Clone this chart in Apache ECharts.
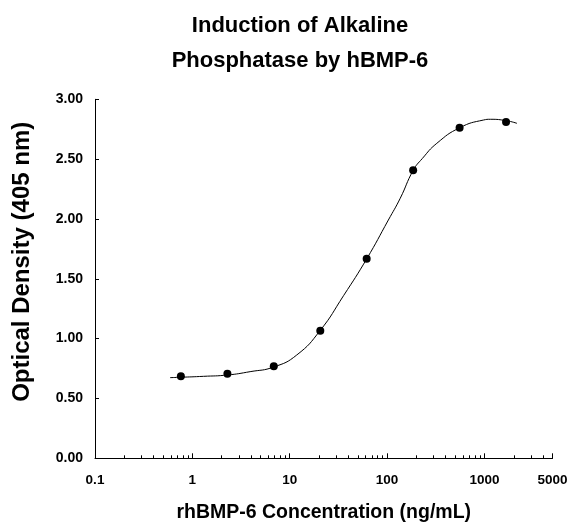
<!DOCTYPE html>
<html>
<head>
<meta charset="utf-8">
<script src="https://cdn.jsdelivr.net/npm/echarts@6/dist/echarts.min.js"></script>
<style>html,body{margin:0;padding:0;background:#fff}#chart{width:571px;height:523px}</style>
</head>
<body>
<div id="chart"></div>
<script>
// Measured points (rhBMP-6 ng/mL, OD 405 nm)
const concentrations = [0.762, 2.29, 6.86, 20.6, 61.7, 185.2, 555.6, 1666.7];
const opticalDensity = [0.685, 0.707, 0.769, 1.066, 1.668, 2.407, 2.763, 2.810];
// Fitted curve
const curveX = [0.59, 0.753, 1.30, 2.29, 3.92, 6.86, 11.8, 20.5, 35.7, 61.9, 103, 136.5, 185.4, 230, 324, 559, 980, 1150, 1687, 2158];
const curveY = [0.674, 0.677, 0.685, 0.696, 0.724, 0.763, 0.863, 1.067, 1.359, 1.668, 1.991, 2.173, 2.406, 2.505, 2.632, 2.763, 2.827, 2.833, 2.821, 2.799];
// Axis ticks
const xMajorTicks = [0.1, 1, 10, 100, 1000, 5000];
const xMinorTicks = [0.2,0.3,0.4,0.5,0.6,0.7,0.8,0.9, 2,3,4,5,6,7,8,9, 20,30,40,50,60,70,80,90, 200,300,400,500,600,700,800,900, 2000,3000,4000,5000];
const yTicks = [0, 0.5, 1, 1.5, 2, 2.5, 3];

const FONT = '"Liberation Sans", Arial, sans-serif';
const chart = echarts.init(document.getElementById('chart'), null, {renderer: 'canvas'});
const curveData = curveX.map((x, i) => [x, curveY[i]]);
const pointData = concentrations.map((x, i) => [x, opticalDensity[i]]);
chart.setOption({
  backgroundColor: '#fff',
  animation: false,
  title: {
    text: 'Induction of Alkaline\nPhosphatase by hBMP-6',
    left: 295, top: 3, textAlign: 'center',
    textStyle: {fontFamily: FONT, fontWeight: 'bold', fontSize: 22, lineHeight: 35, color: '#000'}
  },
  grid: {left: 95, right: 18.5, top: 99.3, bottom: 64.7, outerBoundsMode: 'none', containLabel: false},
  xAxis: [{
    type: 'log', logBase: 10, min: 0.1, max: 5000,
    name: 'rhBMP-6 Concentration (ng/mL)', nameLocation: 'middle', nameGap: 44,
    nameTextStyle: {fontFamily: FONT, fontWeight: 'bold', fontSize: 19.5, color: '#000'},
    axisLine: {lineStyle: {color: '#000', width: 1}},
    axisTick: {inside: true, length: 5, customValues: xMajorTicks, lineStyle: {color: '#000'}},
    axisLabel: {customValues: xMajorTicks, margin: 15, fontFamily: FONT, fontWeight: 'bold', fontSize: 13.5, color: '#000',
      formatter: v => String(Math.round(v * 10) / 10)},
    splitLine: {show: false}, minorTick: {show: false}
  }, {
    type: 'log', logBase: 10, min: 0.1, max: 5000, position: 'bottom',
    axisLine: {show: false},
    axisTick: {inside: true, length: 3, customValues: xMinorTicks, lineStyle: {color: '#000'}},
    axisLabel: {show: false}, splitLine: {show: false}
  }],
  yAxis: {
    type: 'value', min: 0, max: 3, interval: 0.5,
    name: 'Optical Density (405 nm)', nameLocation: 'middle', nameGap: 61,
    nameTextStyle: {fontFamily: FONT, fontWeight: 'bold', fontSize: 24, color: '#000', padding: [0, 0, 0, 34]},
    axisLine: {show: true, lineStyle: {color: '#000', width: 1}},
    axisTick: {show: true, inside: true, length: 4, customValues: yTicks, lineStyle: {color: '#000'}},
    axisLabel: {margin: 12, fontFamily: FONT, fontWeight: 'bold', fontSize: 14, color: '#000', formatter: v => v.toFixed(2)},
    splitLine: {show: false}
  },
  series: [{
    type: 'line', data: curveData, smooth: 0.5, showSymbol: false, symbol: 'none',
    lineStyle: {color: '#000', width: 1}, silent: true
  }, {
    type: 'scatter', data: pointData, symbol: 'circle', symbolSize: 8,
    itemStyle: {color: '#000', opacity: 1}
  }]
});
</script>
</body>
</html>
